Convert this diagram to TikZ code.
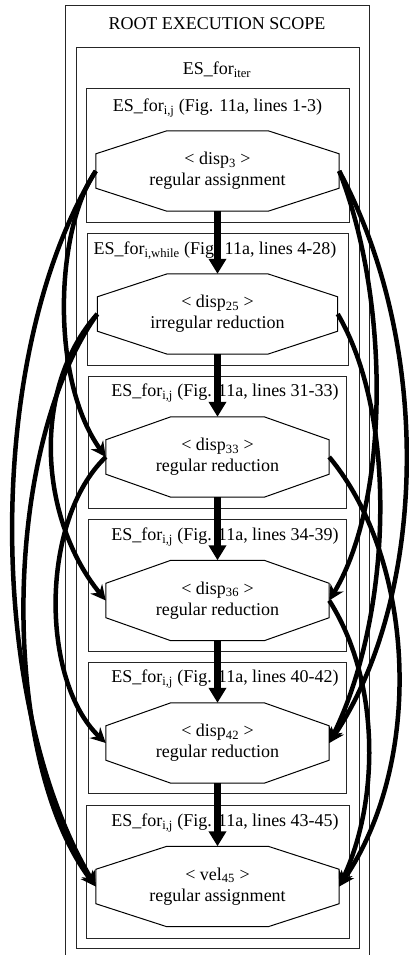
\documentclass[tikz,border=0pt]{standalone}
\usepackage{fontspec}
\setmainfont{Liberation Serif}
\usetikzlibrary{arrows.meta}

\newcommand{\octframe}[2]{%
  \draw[octline] ([xshift=#2]#1.north west) -- ([xshift=-#2]#1.north east)
    -- ([yshift=-23pt]#1.north east) -- ([yshift=23pt]#1.south east)
    -- ([xshift=-#2]#1.south east) -- ([xshift=#2]#1.south west)
    -- ([yshift=23pt]#1.south west) -- ([yshift=-23pt]#1.north west) -- cycle;}

\begin{document}
\begin{tikzpicture}[x=1pt,y=-1pt,
    scopebox/.style={draw=black!85, line width=1pt},
    octline/.style={draw=black, line width=1pt},
    lbl/.style={font=\fontsize{18}{21}\selectfont, inner sep=0pt},
    oct/.style={lbl, align=center, minimum width=#1, minimum height=80pt},
    flow/.style={line width=7pt, -{Triangle[width=17pt,length=15pt]}},
    dep/.style={line width=4.5pt, -{Stealth[width=15pt,length=15pt]}}
  ]
  \useasboundingbox (0,0) rectangle (409,955);

  \draw[scopebox] (65,6) rectangle (369,960);
  \draw[scopebox] (76,48) rectangle (359,948);
  \draw[scopebox] (86,89) rectangle (349,222);
  \draw[scopebox] (87,233) rectangle (348,365);
  \draw[scopebox] (88,376) rectangle (346,508);
  \draw[scopebox] (88,519) rectangle (346,651);
  \draw[scopebox] (88,662) rectangle (346,793);
  \draw[scopebox] (86,805) rectangle (349,938);

  \node[lbl] (root) at (217,24) {ROOT EXECUTION SCOPE};
  \node[lbl] (iter) at (217,70) {ES\_for\textsubscript{iter}};
  \node[lbl] (t3) at (217.5,108) {ES\_for\textsubscript{i,j} (Fig. 11a, lines 1-3)};
  \node[lbl] (t25) at (215,251) {ES\_for\textsubscript{i,while} (Fig. 11a, lines 4-28)};
  \node[lbl] (t33) at (225,393) {ES\_for\textsubscript{i,j} (Fig. 11a, lines 31-33)};
  \node[lbl] (t36) at (225,537) {ES\_for\textsubscript{i,j} (Fig. 11a, lines 34-39)};
  \node[lbl] (t42) at (225,679) {ES\_for\textsubscript{i,j} (Fig. 11a, lines 40-42)};
  \node[lbl] (t45) at (225,823) {ES\_for\textsubscript{i,j} (Fig. 11a, lines 43-45)};

  \node[oct=243pt] (d3) at (217.5,171) {< disp\textsubscript{3} >\\regular assignment};
  \node[oct=240pt] (d25) at (217.5,314) {< disp\textsubscript{25} >\\irregular reduction};
  \node[oct=223pt] (d33) at (217.5,457) {< disp\textsubscript{33} >\\regular reduction};
  \node[oct=223pt] (d36) at (217.5,600.5) {< disp\textsubscript{36} >\\regular reduction};
  \node[oct=223pt] (d42) at (217.5,743) {< disp\textsubscript{42} >\\regular reduction};
  \node[oct=243pt] (v45) at (217.5,886.5) {< vel\textsubscript{45} >\\regular assignment};
  \octframe{d3}{71pt}
  \octframe{d25}{70pt}
  \octframe{d33}{65pt}
  \octframe{d36}{65pt}
  \octframe{d42}{65pt}
  \octframe{v45}{71pt}

  \draw[flow] (d3.south) -- (d25.north);
  \draw[flow] (d25.south) -- (d33.north);
  \draw[flow] (d33.south) -- (d36.north);
  \draw[flow] (d36.south) -- (d42.north);
  \draw[flow] (d42.south) -- (v45.north);

  \draw[dep] (d3.west) .. controls (55,230) and (50,380) .. (d33.west);
  \draw[dep] (d3.west) .. controls (-15,350) and (-15,700) .. (v45.west);
  \draw[dep] (d25.west) .. controls (30,390) and (40,520) .. (d36.west);
  \draw[dep] (d25.west) .. controls (0,450) and (0,760) .. (v45.west);
  \draw[dep] (d33.west) .. controls (40,520) and (40,680) .. (d42.west);

  \draw[dep] (d3.east) .. controls (390,300) and (390,500) .. (d36.east);
  \draw[dep] (d3.east) .. controls (435,350) and (425,600) .. (d42.east);
  \draw[dep] (d25.east) .. controls (400,420) and (390,620) .. (d42.east);
  \draw[dep] (d33.east) .. controls (415,560) and (425,760) .. (v45.east);
  \draw[dep] (d36.east) .. controls (380,680) and (380,800) .. (v45.east);
\end{tikzpicture}
\end{document}
